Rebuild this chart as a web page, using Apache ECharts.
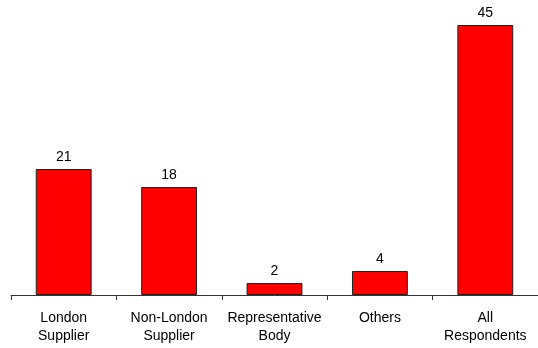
<!DOCTYPE html>
<html>
<head>
<meta charset="utf-8">
<script src="https://cdn.jsdelivr.net/npm/echarts@6/dist/echarts.min.js"></script>
<style>
  html, body { margin: 0; padding: 0; background: #fff; }
  #chart { width: 538px; height: 348px; }
</style>
</head>
<body>
<div id="chart"></div>
<script>
// categories and values
const categories = ['London\nSupplier', 'Non-London\nSupplier', 'Representative\nBody', 'Others', 'All\nRespondents']
const respondents = [21, 18, 2, 4, 45]

const chart = echarts.init(document.getElementById('chart'))

const option = {
  animation: false,
  textStyle: { fontFamily: 'Liberation Sans, Arial, sans-serif' },
  grid: {
    left: 11,
    right: 0,
    top: 25,
    bottom: 53
  },
  xAxis: {
    type: 'category',
    data: categories,
    axisLine: { show: true, lineStyle: { color: '#333', width: 1 } },
    axisTick: { show: true, length: 5, alignWithLabel: false, lineStyle: { color: '#333' } },
    axisLabel: {
      color: '#000',
      fontSize: 14,
      lineHeight: 18,
      margin: 14,
      interval: 0
    }
  },
  yAxis: {
    type: 'value',
    min: 0,
    max: 45,
    show: false,
    splitLine: { show: false }
  },
  series: [
    {
      type: 'bar',
      data: respondents,
      barWidth: '53%',
      itemStyle: {
        color: '#ff0000',
        borderColor: '#222',
        borderWidth: 1
      },
      label: {
        show: true,
        position: 'top',
        distance: 5,
        color: '#000',
        fontSize: 14
      }
    }
  ]
}

chart.setOption(option)
</script>
</body>
</html>
